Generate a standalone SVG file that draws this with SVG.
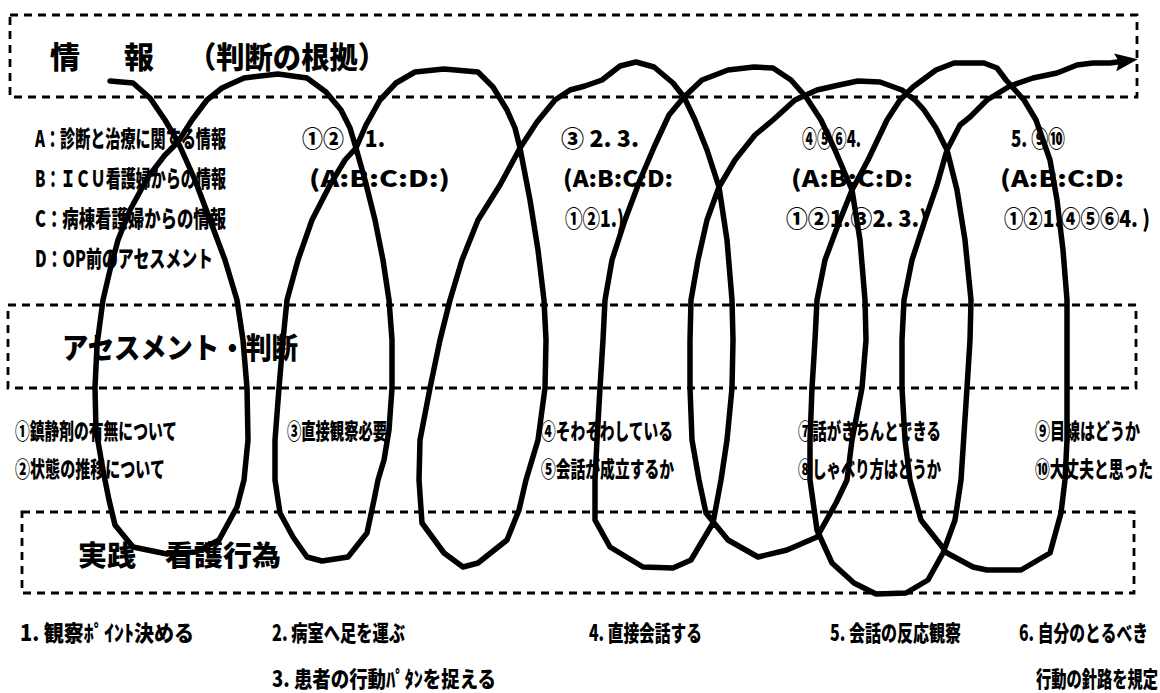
<svg xmlns="http://www.w3.org/2000/svg" width="1160" height="693" viewBox="0 0 1160 693">
<style>
.bg{fill:#fff}
.box{fill:none;stroke:#000;stroke-width:2.8;stroke-dasharray:8 6}
.t{font-family:"Noto Sans CJK JP","Noto Sans CJK SC",sans-serif;font-weight:900;fill:#000}
.h{font-size:30px}
.m{font-size:23px}
.s{font-size:22px}
.coil{fill:none;stroke:#000;stroke-width:5.5;stroke-linejoin:round;stroke-linecap:round}
</style>
<defs>
<marker id="arr" markerUnits="userSpaceOnUse" markerWidth="30" markerHeight="24" refX="10" refY="10" orient="auto" viewBox="0 0 30 24">
<path d="M0,1 L23,10 L0,19 L4,10 z" fill="#000"/>
</marker>
</defs>
<rect class="bg" x="0" y="0" width="1160" height="693"/>

<g id="panel-info">
<rect class="box" x="10" y="15" width="1127" height="82"/>
<text class="t h" x="50" y="68">情</text>
<text class="t h" x="124" y="68">報</text>
<text class="t h" x="188" y="68" textLength="198" lengthAdjust="spacingAndGlyphs">（判断の根拠）</text>
</g>

<g id="info-list">
<text class="t m" x="35" y="147" textLength="191" lengthAdjust="spacingAndGlyphs">A：診断と治療に関する情報</text>
<text class="t m" x="35" y="187" textLength="191" lengthAdjust="spacingAndGlyphs">B：ＩＣＵ看護婦からの情報</text>
<text class="t m" x="35" y="227" textLength="191" lengthAdjust="spacingAndGlyphs">C：病棟看護婦からの情報</text>
<text class="t m" x="35" y="267" textLength="178" lengthAdjust="spacingAndGlyphs">D：OP前のアセスメント</text>
</g>

<g id="info-col1">
<text class="t m" x="302" y="147" textLength="83" lengthAdjust="spacingAndGlyphs">①②　1.</text>
<text class="t m" x="309" y="187" textLength="141" lengthAdjust="spacingAndGlyphs">(A:B:C:D:)</text>
</g>
<g id="info-col2">
<text class="t m" x="561" y="147" textLength="78" lengthAdjust="spacingAndGlyphs">③ 2. 3.</text>
<text class="t m" x="563" y="187" textLength="110" lengthAdjust="spacingAndGlyphs">(A:B:C:D:</text>
<text class="t m" x="565" y="227" textLength="59" lengthAdjust="spacingAndGlyphs">①②1.)</text>
</g>
<g id="info-col3">
<text class="t m" x="802" y="147" textLength="59" lengthAdjust="spacingAndGlyphs">④⑤⑥4.</text>
<text class="t m" x="791" y="187" textLength="122" lengthAdjust="spacingAndGlyphs">(A:B:C:D:</text>
<text class="t m" x="786" y="227" textLength="142" lengthAdjust="spacingAndGlyphs">①②1.③2. 3.)</text>
</g>
<g id="info-col4">
<text class="t m" x="1011" y="147" textLength="54" lengthAdjust="spacingAndGlyphs">5. ⑨⑩</text>
<text class="t m" x="1000" y="187" textLength="124" lengthAdjust="spacingAndGlyphs">(A:B:C:D:</text>
<text class="t m" x="1004" y="227" textLength="146" lengthAdjust="spacingAndGlyphs">①②1.④⑤⑥4. )</text>
</g>

<g id="panel-assess">
<rect class="box" x="8" y="305" width="1128" height="83"/>
<text class="t" style="font-size:29px" x="62" y="359" textLength="236" lengthAdjust="spacingAndGlyphs">アセスメント・判断</text>
</g>

<g id="assess-items">
<text class="t s" x="15" y="439" textLength="162" lengthAdjust="spacingAndGlyphs">①鎮静剤の有無について</text>
<text class="t s" x="15" y="477" textLength="150" lengthAdjust="spacingAndGlyphs">②状態の推移について</text>
<text class="t s" x="287" y="439" textLength="100" lengthAdjust="spacingAndGlyphs">③直接観察必要</text>
<text class="t s" x="541" y="439" textLength="132" lengthAdjust="spacingAndGlyphs">④そわそわしている</text>
<text class="t s" x="541" y="477" textLength="133" lengthAdjust="spacingAndGlyphs">⑤会話が成立するか</text>
<text class="t s" x="798" y="439" textLength="143" lengthAdjust="spacingAndGlyphs">⑦話がきちんとできる</text>
<text class="t s" x="798" y="477" textLength="143" lengthAdjust="spacingAndGlyphs">⑧しゃべり方はどうか</text>
<text class="t s" x="1035" y="439" textLength="105" lengthAdjust="spacingAndGlyphs">⑨目線はどうか</text>
<text class="t s" x="1035" y="477" textLength="118" lengthAdjust="spacingAndGlyphs">⑩大丈夫と思った</text>
</g>

<g id="panel-practice">
<rect class="box" x="22" y="512" width="1112" height="81"/>
<text class="t" style="font-size:28px" x="78" y="566" textLength="203" lengthAdjust="spacingAndGlyphs">実践　看護行為</text>
</g>

<g id="practice-items">
<text class="t s" x="20" y="641" textLength="174" lengthAdjust="spacingAndGlyphs">1. 観察ﾎﾟｲﾝﾄ決める</text>
<text class="t s" x="272" y="641" textLength="133" lengthAdjust="spacingAndGlyphs">2. 病室へ足を運ぶ</text>
<text class="t s" x="272" y="687" textLength="224" lengthAdjust="spacingAndGlyphs">3. 患者の行動ﾊﾟﾀﾝを捉える</text>
<text class="t s" x="589" y="641" textLength="113" lengthAdjust="spacingAndGlyphs">4. 直接会話する</text>
<text class="t s" x="830" y="641" textLength="131" lengthAdjust="spacingAndGlyphs">5. 会話の反応観察</text>
<text class="t s" x="1019" y="641" textLength="129" lengthAdjust="spacingAndGlyphs">6. 自分のとるべき</text>
<text class="t s" x="1036" y="687" textLength="122" lengthAdjust="spacingAndGlyphs">行動の針路を規定</text>
</g>

<g id="connectors">
<path class="coil" marker-end="url(#arr)" d="M110,81 L133,83 L150,98 L165,120 L178,142 L195,180 L210,220 L225,260 L237,300 L243,340 L247,388 L248,440 L244,480 L237,507 L219,540 L196,552 L167,554 L133,547 L115,525 L109,500 L103,470 L96,430 L95,388 L97,345 L103,300 L110,270 L118,240 L130,210 L148,177 L165,155 L178,142 L192,120 L207,100 L222,88 L244,78 L278,74 L307,78 L326,92 L341,110 L350,128 L356,148 L365,180 L375,220 L383,260 L389,300 L392,340 L392,388 L389,430 L384,460 L378,480 L374,500 L367,533 L348,557 L322,561 L307,557 L293,537 L280,513 L275,480 L275,440 L279,388 L283,340 L287,300 L298,260 L312,220 L330,185 L345,160 L356,148 L366,125 L380,100 L396,83 L415,72 L444,69 L478,72 L493,87 L507,110 L515,128 L520,148 L530,200 L538,250 L544,300 L546,340 L545,388 L538,440 L526,480 L519,510 L507,540 L478,563 L463,567 L444,553 L422,523 L419,480 L420,440 L430,388 L440,340 L450,300 L462,260 L478,220 L500,185 L520,148 L537,122 L555,100 L570,90 L585,86 L602,80 L620,66 L636,62 L654,67 L673,83 L684,97 L695,120 L707,150 L719,187 L727,240 L732,300 L733,340 L732,388 L727,440 L721,480 L713,523 L691,560 L673,568 L643,567 L610,547 L595,520 L595,480 L597,440 L600,388 L603,340 L605,300 L612,260 L625,220 L640,180 L655,145 L669,115 L684,97 L702,80 L728,70 L754,67 L773,68 L791,80 L806,97 L821,120 L835,150 L852,190 L860,240 L865,300 L866,340 L862,388 L852,440 L847,480 L836,503 L817,537 L787,550 L758,557 L728,540 L706,513 L699,480 L692,440 L690,388 L690,340 L691,300 L698,260 L707,220 L719,187 L735,160 L755,135 L773,120 L795,100 L817,90 L839,85 L858,81 L880,82 L902,90 L915,100 L924,110 L936,128 L947,150 L957,190 L965,240 L971,300 L970,340 L967,388 L961,480 L955,520 L943,553 L928,580 L906,593 L876,594 L854,583 L832,563 L817,530 L810,480 L810,440 L812,388 L815,340 L817,300 L825,260 L838,225 L852,190 L868,160 L887,120 L900,100 L913,87 L936,70 L954,63 L984,63 L997,68 L1006,80 L1015,90 L1024,100 L1036,120 L1043,140 L1050,160 L1057,200 L1063,250 L1067,300 L1067,388 L1067,440 L1065,480 L1061,513 L1050,553 L1021,570 L987,570 L973,567 L947,553 L921,520 L910,480 L905,440 L902,388 L902,340 L904,300 L912,260 L925,220 L937,185 L947,150 L960,125 L970,117 L987,100 L1010,86 L1033,78 L1057,73 L1077,65 L1093,63 L1110,63 L1125,61"/>
</g>
</svg>
